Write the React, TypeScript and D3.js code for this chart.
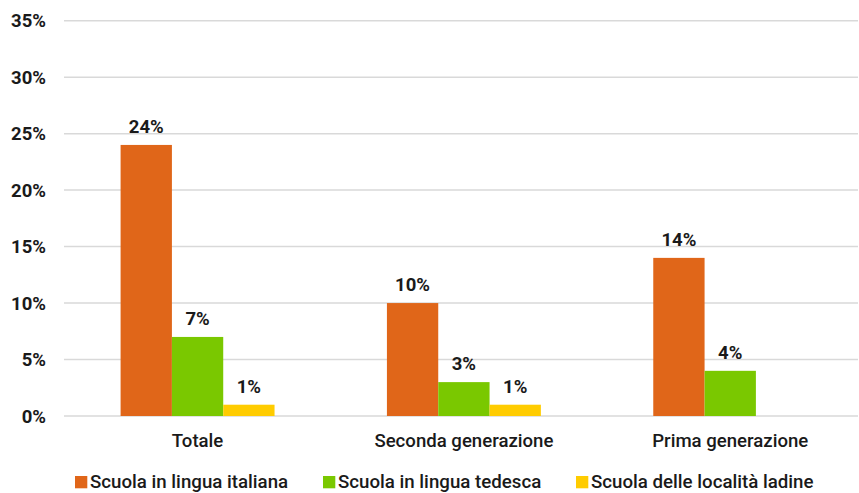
import React from "react";
import * as d3 from "d3";

const categories = ["Totale", "Seconda generazione", "Prima generazione"];
const seriesNames = [
  "Scuola in lingua italiana",
  "Scuola in lingua tedesca",
  "Scuola delle località ladine",
];
const italiana: (number | null)[] = [24, 10, 14];
const tedesca: (number | null)[] = [7, 3, 4];
const ladine: (number | null)[] = [1, 1, null];
const yTicks = [0, 5, 10, 15, 20, 25, 30, 35];
const colors = ["#E06619", "#7AC800", "#FFCC00"];

const W = 859;
const H = 493;
const FONT = "Roboto, 'Noto Sans', sans-serif";

export default function App() {
  const series = [italiana, tedesca, ladine];
  const x = d3.scaleBand<string>().domain(categories).range([64.4, 863.4]).paddingInner(0).paddingOuter(0);
  const inner = d3
    .scaleBand<number>()
    .domain([0, 1, 2])
    .range([0, x.bandwidth()])
    .paddingOuter(1.095)
    .paddingInner(0);
  const y = d3.scaleLinear().domain([0, 35]).range([416, 20.7]);

  const legendX = [75, 323, 576];

  return (
    <svg
      width={W}
      height={H}
      style={{ position: "absolute", left: 0, top: 0, background: "#fff" }}
      fontFamily={FONT}
    >
      {yTicks.map((t) => (
        <g key={t}>
          <line x1={64} x2={858} y1={y(t)} y2={y(t)} stroke="#d9d9d9" strokeWidth={1.5} />
          <text
            x={46}
            y={y(t)}
            dy="0.36em"
            textAnchor="end"
            fontSize={18.5}
            fontWeight={700}
            fill="#1a1a1a"
          >
            {t}%
          </text>
        </g>
      ))}
      {categories.map((c, ci) => (
        <g key={c} transform={`translate(${x(c)},0)`}>
          {series.map((s, si) => {
            const v = s[ci];
            if (v == null) return null;
            const bx = inner(si)!;
            const bw = inner.bandwidth();
            return (
              <g key={si}>
                <rect x={bx} y={y(v)} width={bw} height={y(0) - y(v)} fill={colors[si]} />
                <text
                  x={bx + bw / 2}
                  y={y(v) - 12}
                  textAnchor="middle"
                  fontSize={18.5}
                  fontWeight={700}
                  fill="#1a1a1a"
                >
                  {v}%
                </text>
              </g>
            );
          })}
          <text
            x={x.bandwidth() / 2}
            y={447}
            textAnchor="middle"
            fontSize={18.6}
            fontWeight={500}
            fill="#1a1a1a"
          >
            {c}
          </text>
        </g>
      ))}
      {seriesNames.map((n, i) => (
        <g key={n} transform={`translate(${legendX[i]},0)`}>
          <rect x={0} y={476} width={12.3} height={12.3} fill={colors[i]} />
          <text x={15} y={488} fontSize={18.7} fontWeight={500} fill="#1a1a1a">
            {n}
          </text>
        </g>
      ))}
    </svg>
  );
}
